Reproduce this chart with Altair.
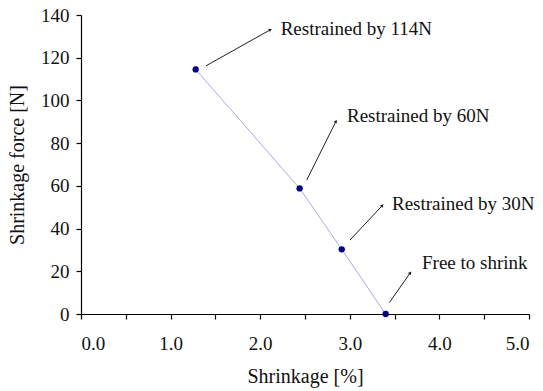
import math
import altair as alt
import pandas as pd

# Data
shrinkage = [1.28, 2.44, 2.91, 3.40]
force = [114.5, 58.8, 30.3, 0.0]

labels = ["Restrained by 114N", "Restrained by 60N", "Restrained by 30N", "Free to shrink"]
arrow_x0 = [1.395, 2.519, 3.002, 3.441]
arrow_y0 = [116.2, 62.7, 34.6, 5.3]
arrow_x1 = [2.109, 2.843, 3.359, 3.672]
arrow_y1 = [133.0, 90.0, 50.6, 19.1]
text_x = [2.184, 2.924, 3.426, 3.761]
text_y = [133.4, 92.7, 51.5, 23.9]

W, H = 448, 299
XMAX, YMAX = 5.0, 140.0

FONT = "Liberation Serif"

df = pd.DataFrame({"x": shrinkage, "y": force})
angles = []
for a, b, c, d in zip(arrow_x0, arrow_y0, arrow_x1, arrow_y1):
    dxp = (c - a) * W / XMAX
    dyp = (d - b) * H / YMAX
    angles.append(math.degrees(math.atan2(dxp, dyp)))
ann = pd.DataFrame({
    "label": labels, "x0": arrow_x0, "y0": arrow_y0, "x1": arrow_x1, "y1": arrow_y1,
    "tx": text_x, "ty": text_y, "angle": angles,
})

xscale = alt.Scale(domain=[0, XMAX], nice=False)
yscale = alt.Scale(domain=[0, YMAX], nice=False)

xaxis = alt.Axis(
    title="Shrinkage [%]",
    values=[i * 0.5 for i in range(11)],
    labelExpr="datum.value % 1 == 0 ? format(datum.value, '.1f') : ''",
    grid=False, tickSize=5, labelPadding=15, titlePadding=13,
)
yaxis = alt.Axis(
    title="Shrinkage force [N]",
    values=[i * 10 for i in range(15)],
    labelExpr="datum.value % 20 == 0 ? format(datum.value, 'd') : ''",
    grid=False, tickSize=5, labelPadding=7, titlePadding=13,
)

line = alt.Chart(df).mark_line(color="#a8a8f0", strokeWidth=1, interpolate="linear").encode(
    x=alt.X("x:Q", scale=xscale, axis=xaxis),
    y=alt.Y("y:Q", scale=yscale, axis=yaxis),
)
pts = alt.Chart(df).mark_point(filled=True, color="#000080", size=40, opacity=1).encode(
    x="x:Q", y="y:Q"
)
arrows = alt.Chart(ann).mark_rule(color="#222222", strokeWidth=1).encode(
    x="x0:Q", y="y0:Q", x2="x1:Q", y2="y1:Q"
)
heads = alt.Chart(ann).mark_point(shape="triangle", filled=True, color="#222222", size=14, opacity=1).encode(
    x="x1:Q", y="y1:Q", angle=alt.Angle("angle:Q", scale=None)
)
texts = alt.Chart(ann).mark_text(align="left", baseline="middle", dx=4, font=FONT, fontSize=19, color="#111111").encode(
    x="tx:Q", y="ty:Q", text="label:N"
)

chart = alt.layer(line, pts, arrows, heads, texts).properties(
    width=W, height=H,
    autosize=alt.AutoSizeParams(type="none"),
    padding={"left": 81, "top": 15, "right": 14, "bottom": 77},
).configure_view(stroke=None).configure_axis(
    labelFont=FONT, titleFont=FONT, labelFontSize=19, titleFontSize=20,
    labelColor="#111111", titleColor="#111111", titleFontWeight="normal",
    domainColor="#000000", tickColor="#000000", domainWidth=1.2, tickWidth=1.2,
)

chart.save("out.html", embed_options={"renderer": "svg", "actions": False})
